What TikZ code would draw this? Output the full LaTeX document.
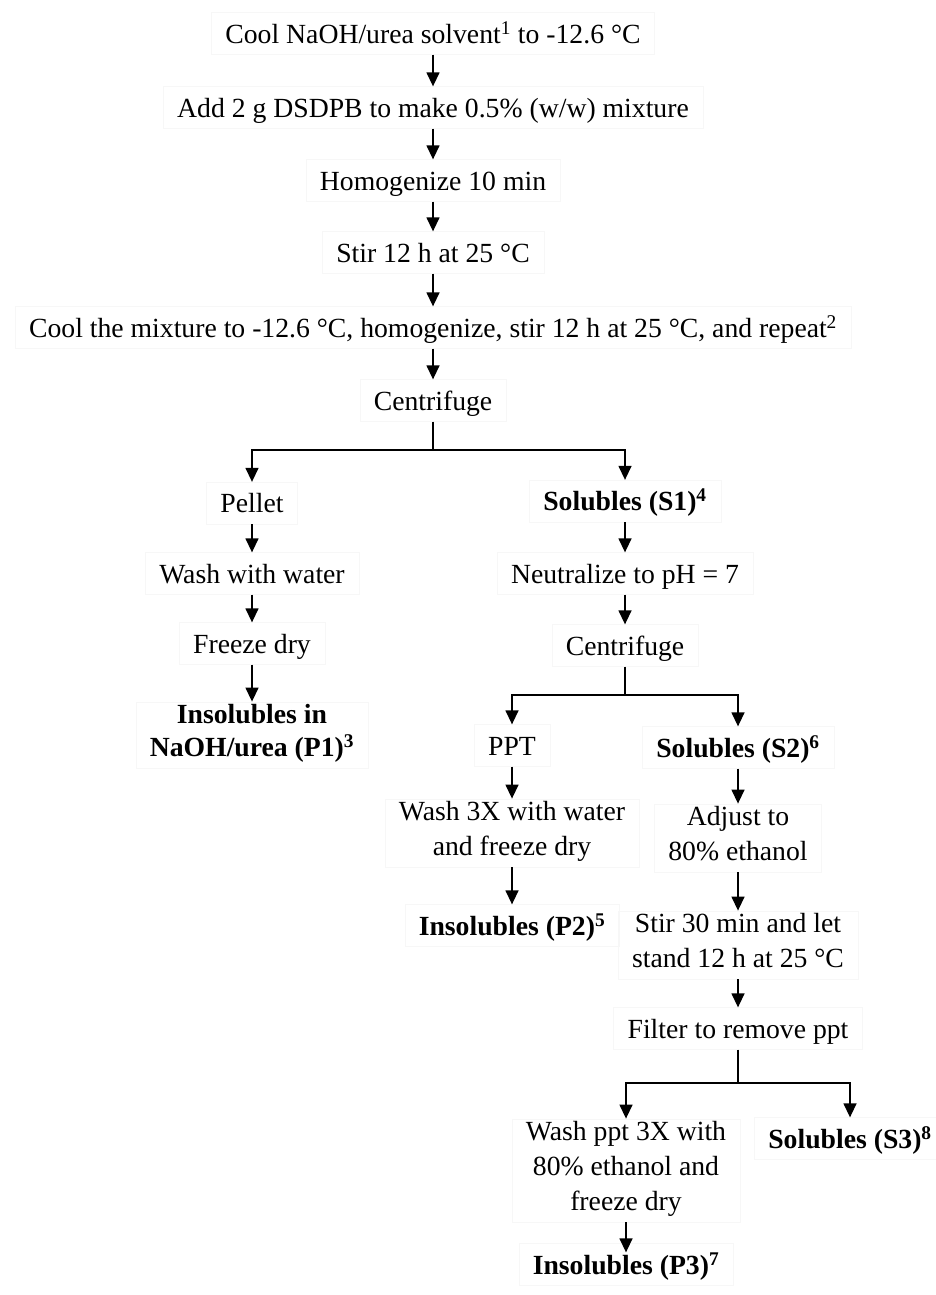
\documentclass[tikz,border=0pt]{standalone}
\usepackage{fontspec}
\setmainfont{Liberation Serif}
\usetikzlibrary{arrows.meta}
\newcommand\ystrut{\rule[-0.3em]{0pt}{1.3em}}
\tikzset{
  stepbox/.style={draw=black!3, line width=0.3pt, inner xsep=14pt, inner ysep=3pt, align=center,
    font=\fontsize{27.7}{35}\selectfont,
    execute at begin node=\ystrut, execute at end node=\ystrut},
  keybox/.style={stepbox, font=\fontsize{27.7}{33}\selectfont\bfseries},
  arr/.style={-{Triangle[length=14pt,width=13pt]}, line width=1.4pt},
}
\begin{document}
\begin{tikzpicture}[x=1pt,y=-1pt]
      \useasboundingbox (0,0) rectangle (935,1295);
      \draw
        (433,33.5) node[stepbox] (0){Cool NaOH/urea solvent\textsuperscript{1} to -12.6 °C}
        (433,107.5) node[stepbox] (1){Add 2 g DSDPB to make 0.5\% (w/w) mixture}
        (433,180.5) node[stepbox] (2){Homogenize 10 min}
        (433,252.5) node[stepbox] (3){Stir 12 h at 25 °C}
        (433,327.5) node[stepbox] (4){Cool the mixture to -12.6 °C, homogenize, stir 12 h at 25 °C, and repeat\textsuperscript{2}}
        (433,400.5) node[stepbox] (5){Centrifuge}
        (252,503) node[stepbox] (6){Pellet}
        (625,501) node[keybox] (7){Solubles (S1)\textsuperscript{4}}
        (252,573.5) node[stepbox] (8){Wash with water}
        (625,573.5) node[stepbox] (9){Neutralize to pH = 7}
        (252,643.5) node[stepbox] (10){Freeze dry}
        (625,645.5) node[stepbox] (11){Centrifuge}
        (252,735) node[keybox] (12){Insolubles in\\NaOH/urea (P1)\textsuperscript{3}}
        (512,745.5) node[stepbox] (13){PPT}
        (738,747.5) node[keybox] (14){Solubles (S2)\textsuperscript{6}}
        (512,833) node[stepbox] (15){Wash 3X with water\\and freeze dry}
        (738,838) node[stepbox] (16){Adjust to\\80\% ethanol}
        (512,925.5) node[keybox] (17){Insolubles (P2)\textsuperscript{5}}
        (738,945) node[stepbox] (18){Stir 30 min and let\\stand 12 h at 25 °C}
        (738,1028.5) node[stepbox] (19){Filter to remove ppt}
        (626,1170.5) node[stepbox] (20){Wash ppt 3X with\\80\% ethanol and\\freeze dry}
        (850,1138.5) node[keybox] (21){Solubles (S3)\textsuperscript{8}}
        (626,1264.5) node[keybox] (22){Insolubles (P3)\textsuperscript{7}};
      \coordinate (j0) at (433,450);
      \coordinate (j1) at (625,695);
      \coordinate (j2) at (738,1083);
      \begin{scope}[line width=1.1pt]
        \draw (5) -- (j0);
        \draw (11) -- (j1);
        \draw (19) -- (j2);
      \end{scope}
      \begin{scope}[arr]
        \draw (0) to (1);
        \draw (1) to (2);
        \draw (2) to (3);
        \draw (3) to (4);
        \draw (4) to (5);
        \draw (j0) -| (6);
        \draw (j0) -| (7);
        \draw (6) to (8);
        \draw (8) to (10);
        \draw (10) to (12);
        \draw (7) to (9);
        \draw (9) to (11);
        \draw (j1) -| (13);
        \draw (j1) -| (14);
        \draw (13) to (15);
        \draw (15) to (17);
        \draw (14) to (16);
        \draw (16) to (18);
        \draw (18) to (19);
        \draw (j2) -| (20);
        \draw (j2) -| (21);
        \draw[shorten >=-9pt] (20) to (22);
      \end{scope}
    \end{tikzpicture}
\end{document}
